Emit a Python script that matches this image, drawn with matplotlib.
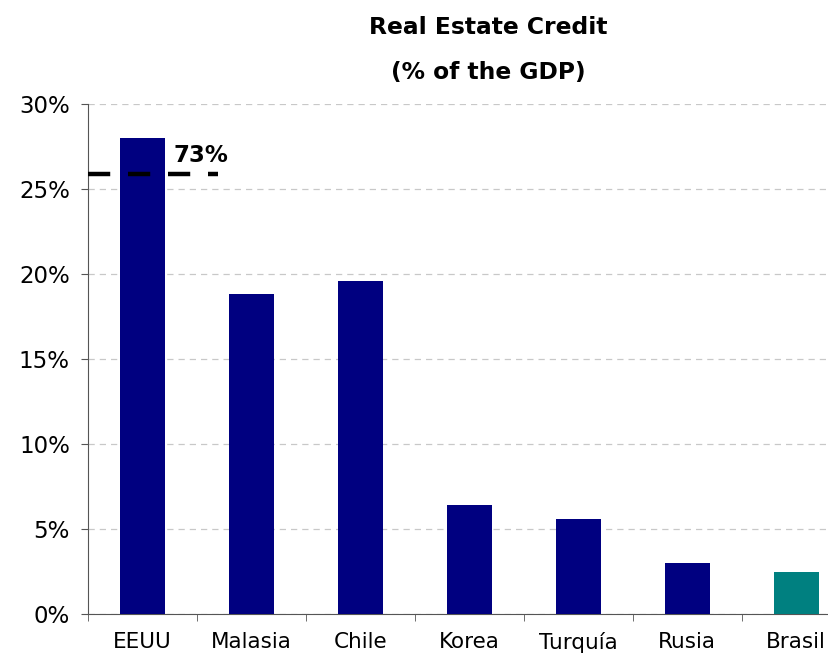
import numpy as np
import matplotlib.pyplot as plt
from matplotlib.ticker import PercentFormatter

# data
countries = ["EEUU", "Malasia", "Chile", "Korea", "Turquía", "Rusia", "Brasil"]
credit_pct = [28.0, 18.8, 19.6, 6.4, 5.6, 3.0, 2.5]
bar_colors = ["#000080"] * 6 + ["#008080"]
eeuu_break_level = 25.9
eeuu_true_label = "73%"

fig = plt.figure(figsize=(8.29, 6.64), dpi=100)
ax = fig.add_axes([0.106, 0.0753, 0.894, 0.768])

x = np.arange(len(countries))
ax.bar(x, credit_pct, width=0.41, color=bar_colors, zorder=3)

# dashed break marker on the EEUU bar (real value off the scale)
ax.plot([-0.5, 0.69], [eeuu_break_level, eeuu_break_level], color="black",
        linewidth=3.2, dashes=(5, 4), zorder=4, clip_on=False)
ax.text(0.29, 26.3, eeuu_true_label, fontsize=16.5, fontweight="bold",
        ha="left", va="bottom", zorder=5)

ax.set_ylim(0, 30)
ax.set_xlim(-0.5, 6.3)
ax.set_yticks(np.arange(0, 31, 5))
ax.yaxis.set_major_formatter(PercentFormatter(decimals=0))
ax.set_xticks(x)
ax.set_xticklabels(countries)
ax.set_xticks(np.arange(-0.5, 6.5, 1), minor=True)
ax.tick_params(axis="x", which="major", length=0, pad=13, labelsize=15.5)
ax.tick_params(axis="x", which="minor", length=5, color="#555555", direction="out")
ax.tick_params(axis="y", length=5, color="#555555", pad=8, labelsize=16.5)

ax.grid(True, axis="y", linestyle=(0, (5, 4)), color="#c8c8c8", linewidth=0.9, zorder=0)
for side in ["top", "right"]:
    ax.spines[side].set_visible(False)
ax.spines["left"].set_color("#555555")
ax.spines["bottom"].set_color("#555555")

fig.text(0.589, 0.958, "Real Estate Credit", ha="center", va="center",
         fontsize=16.8, fontweight="bold")
fig.text(0.589, 0.891, "(% of the GDP)", ha="center", va="center",
         fontsize=16.8, fontweight="bold")

plt.savefig("out.png", dpi=100)
